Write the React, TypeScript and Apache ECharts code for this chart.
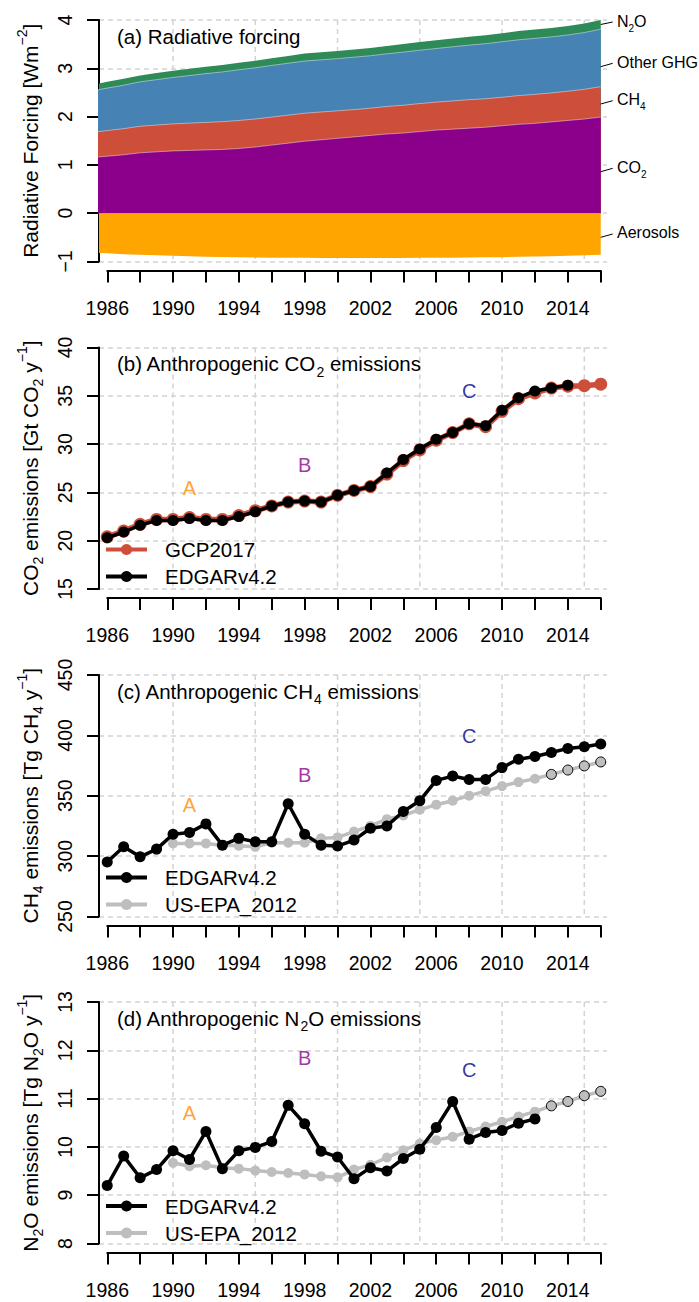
import React, { useEffect, useRef } from "react";
import * as echarts from "echarts";

// ---------------- DATA ----------------
const forcingYears = [1985, 1986, 1987, 1988, 1989, 1990, 1991, 1992, 1993, 1994, 1995, 1996, 1997, 1998, 1999, 2000, 2001, 2002, 2003, 2004, 2005, 2006, 2007, 2008, 2009, 2010, 2011, 2012, 2013, 2014, 2015, 2016];
const co2Forcing = [1.15, 1.18, 1.21, 1.25, 1.27, 1.29, 1.3, 1.31, 1.32, 1.34, 1.37, 1.41, 1.45, 1.49, 1.52, 1.55, 1.58, 1.61, 1.64, 1.66, 1.69, 1.72, 1.74, 1.76, 1.78, 1.81, 1.84, 1.86, 1.89, 1.92, 1.95, 1.99];
const ch4Forcing = [0.52, 0.53, 0.54, 0.55, 0.555, 0.56, 0.565, 0.57, 0.575, 0.58, 0.58, 0.58, 0.58, 0.58, 0.575, 0.57, 0.565, 0.565, 0.57, 0.575, 0.58, 0.58, 0.585, 0.59, 0.59, 0.59, 0.595, 0.6, 0.6, 0.605, 0.615, 0.63];
const otherGhgForcing = [0.86, 0.88, 0.9, 0.92, 0.94, 0.96, 0.985, 1.01, 1.03, 1.05, 1.06, 1.07, 1.075, 1.08, 1.08, 1.08, 1.085, 1.085, 1.09, 1.1, 1.105, 1.11, 1.12, 1.13, 1.14, 1.15, 1.155, 1.16, 1.16, 1.165, 1.175, 1.19];
const n2oForcing = [0.125, 0.13, 0.132, 0.133, 0.136, 0.138, 0.14, 0.141, 0.144, 0.146, 0.148, 0.15, 0.152, 0.154, 0.155, 0.158, 0.16, 0.162, 0.164, 0.166, 0.168, 0.17, 0.172, 0.174, 0.176, 0.178, 0.18, 0.182, 0.184, 0.186, 0.188, 0.19];
const aerosolForcing = [-0.82, -0.83, -0.85, -0.86, -0.87, -0.88, -0.89, -0.9, -0.905, -0.91, -0.915, -0.92, -0.92, -0.92, -0.925, -0.93, -0.93, -0.93, -0.93, -0.925, -0.92, -0.92, -0.92, -0.915, -0.91, -0.91, -0.9, -0.895, -0.89, -0.88, -0.87, -0.86];

const edgarCo2Years = [1986, 1987, 1988, 1989, 1990, 1991, 1992, 1993, 1994, 1995, 1996, 1997, 1998, 1999, 2000, 2001, 2002, 2003, 2004, 2005, 2006, 2007, 2008, 2009, 2010, 2011, 2012, 2013, 2014];
const edgarCo2 = [20.3, 20.9, 21.6, 22.1, 22.1, 22.3, 22.1, 22.1, 22.5, 23.0, 23.6, 24.0, 24.1, 24.0, 24.7, 25.2, 25.6, 27.0, 28.4, 29.5, 30.5, 31.2, 32.1, 31.9, 33.5, 34.8, 35.5, 35.8, 36.1];
const gcpYears = [1986, 1987, 1988, 1989, 1990, 1991, 1992, 1993, 1994, 1995, 1996, 1997, 1998, 1999, 2000, 2001, 2002, 2003, 2004, 2005, 2006, 2007, 2008, 2009, 2010, 2011, 2012, 2013, 2014, 2015, 2016];
const gcpCo2 = [20.4, 21.0, 21.7, 22.2, 22.2, 22.4, 22.2, 22.2, 22.6, 23.1, 23.6, 24.0, 24.1, 24.0, 24.7, 25.2, 25.6, 26.9, 28.3, 29.4, 30.4, 31.2, 32.1, 31.8, 33.4, 34.7, 35.3, 35.8, 36.0, 36.05, 36.2];

const edgarCh4Years = [1986, 1987, 1988, 1989, 1990, 1991, 1992, 1993, 1994, 1995, 1996, 1997, 1998, 1999, 2000, 2001, 2002, 2003, 2004, 2005, 2006, 2007, 2008, 2009, 2010, 2011, 2012, 2013, 2014, 2015, 2016];
const edgarCh4 = [295.2, 307.7, 299.4, 305.8, 318.1, 319.5, 326.7, 309.1, 314.7, 311.9, 311.9, 343.4, 318.1, 309.1, 308.3, 313.3, 323.1, 325.0, 337.0, 345.9, 362.7, 366.3, 363.5, 363.5, 373.3, 380.3, 382.5, 385.8, 389.2, 390.6, 392.8];
const epaYears = [1990, 1991, 1992, 1993, 1994, 1995, 1996, 1997, 1998, 1999, 2000, 2001, 2002, 2003, 2004, 2005, 2006, 2007, 2008, 2009, 2010, 2011, 2012, 2013, 2014, 2015, 2016];
const epaCh4 = [310.5, 310.5, 310.5, 309.1, 308.6, 307.7, 311.1, 311.1, 311.1, 314.7, 315.5, 320.3, 325.0, 330.6, 333.7, 338.4, 342.6, 345.9, 350.1, 353.8, 358.0, 361.3, 364.1, 367.7, 371.3, 374.7, 378.0];

const edgarN2oYears = [1986, 1987, 1988, 1989, 1990, 1991, 1992, 1993, 1994, 1995, 1996, 1997, 1998, 1999, 2000, 2001, 2002, 2003, 2004, 2005, 2006, 2007, 2008, 2009, 2010, 2011, 2012];
const edgarN2o = [9.2, 9.81, 9.36, 9.53, 9.92, 9.74, 10.32, 9.55, 9.92, 9.99, 10.11, 10.86, 10.48, 9.91, 9.79, 9.34, 9.57, 9.5, 9.76, 9.95, 10.4, 10.94, 10.16, 10.3, 10.34, 10.49, 10.58];
const epaN2o = [9.67, 9.6, 9.62, 9.57, 9.55, 9.51, 9.48, 9.46, 9.43, 9.39, 9.37, 9.53, 9.63, 9.78, 9.93, 10.07, 10.14, 10.21, 10.32, 10.42, 10.52, 10.63, 10.73, 10.85, 10.94, 11.06, 11.15];
const epaProjectionStart = 2013;

const letterNames = ["A", "B", "C"];
const letterYears = [1991, 1998, 2008];
const lettersCo2 = [25.5, 27.8, 35.5];
const lettersCh4 = [342.6, 367.0, 399.2];
const lettersN2o = [10.7, 11.85, 11.6];

const verticalGridYears = [1990, 1995, 2000, 2005, 2010, 2015];

// ---------------- STYLE / LAYOUT ----------------
const FONT = '"Liberation Sans", Arial, Helvetica, sans-serif';
const GRID_COLOR = "#d3d3d3";
const TOPS = [20, 347.5, 675, 1002];
const PH = 241.5;
const PL = 99;
const PW = 508;
const AL = 107.3;
const AW = 493.4;
const XMIN = 1985.5;
const XMAX = 2016.38;
const letterColors = ["#FF8C00", "#8B008B", "#00008B"];
const C_CO2 = "#8B008B";
const C_CH4 = "#CD4F39";
const C_OTHER = "#4682B4";
const C_N2O = "#2E8B57";
const C_AER = "#FFA500";
const C_GRAY = "#BEBEBE";

const panels = [
  { yMin: -1, yMax: 4, interval: 1, name: "Radiative Forcing [Wm{sup|−2}]", title: "(a) Radiative forcing" },
  { yMin: 15, yMax: 40, interval: 5, name: "CO{sub|2} emissions [Gt CO{sub|2} y{sup|−1}]", title: "(b) Anthropogenic CO{sub|2} emissions" },
  { yMin: 250, yMax: 450, interval: 50, name: "CH{sub|4} emissions [Tg CH{sub|4} y{sup|−1}]", title: "(c) Anthropogenic CH{sub|4} emissions" },
  { yMin: 8, yMax: 13, interval: 1, name: "N{sub|2}O emissions [Tg N{sub|2}O y{sup|−1}]", title: "(d) Anthropogenic N{sub|2}O emissions" },
];

const pairs = (xs: number[], ys: number[]) => xs.map((x, i) => [x, ys[i]]);

function buildOption() {
  const grid: any[] = [];
  const xAxis: any[] = [];
  const yAxis: any[] = [];
  const series: any[] = [];
  const graphic: any[] = [];

  const optRich = {
    sub: { fontSize: 14, verticalAlign: "bottom", fontFamily: FONT, color: "#000" },
    sup: { fontSize: 14, verticalAlign: "top", fontFamily: FONT, color: "#000" },
  };
  const gRich = (fs: number) => ({
    sub: { fontSize: fs, verticalAlign: "bottom", fontFamily: FONT, fill: "#000" },
    sup: { fontSize: fs, verticalAlign: "top", fontFamily: FONT, fill: "#000" },
  });

  panels.forEach((p, i) => {
    const top = TOPS[i];
    grid.push({ left: PL, top, width: PW, height: PH, containLabel: false, outerBoundsMode: "none" });
    grid.push({ left: AL, top, width: AW, height: PH, containLabel: false, outerBoundsMode: "none" });
    xAxis.push({ gridIndex: 2 * i, type: "value", min: XMIN, max: XMAX, show: false });
    xAxis.push({
      gridIndex: 2 * i + 1,
      type: "value",
      min: 1986,
      max: 2016,
      interval: 2,
      position: "bottom",
      offset: 9,
      axisLine: { show: true, onZero: false, lineStyle: { color: "#000", width: 2 } },
      axisTick: { show: true, length: 12, lineStyle: { color: "#000", width: 2 } },
      axisLabel: {
        show: true,
        margin: 27,
        fontSize: 19.5,
        fontFamily: FONT,
        color: "#000",
        showMinLabel: true,
        showMaxLabel: true,
        formatter: (v: number) => {
          const r = Math.round(v);
          return (r - 1986) % 4 === 0 ? String(r) : "";
        },
      },
      splitLine: { show: false },
    });
    yAxis.push({
      gridIndex: 2 * i,
      type: "value",
      min: p.yMin,
      max: p.yMax,
      interval: p.interval,
      axisLine: { show: true, onZero: false, lineStyle: { color: "#000", width: 2 } },
      axisTick: { show: true, length: 12, lineStyle: { color: "#000", width: 2 } },
      axisLabel: {
        show: true,
        rotate: 90,
        margin: 24,
        fontSize: 19.5,
        fontFamily: FONT,
        color: "#000",
        showMinLabel: true,
        showMaxLabel: true,
        formatter: (v: number) => (v < 0 ? "−" + Math.abs(v) : String(v)),
      },
      splitLine: { show: true, lineStyle: { color: GRID_COLOR, width: 1.5, type: [5, 4] } },
      name: p.name,
      nameLocation: "middle",
      nameGap: 54,
      nameRotate: 90,
      nameMoveOverlap: false,
      nameTextStyle: { fontSize: 21, fontFamily: FONT, color: "#000", lineHeight: 30, rich: optRich },
    });
    yAxis.push({ gridIndex: 2 * i + 1, type: "value", min: 0, max: 1, show: false });

    series.push({
      type: "custom",
      xAxisIndex: 2 * i,
      yAxisIndex: 2 * i,
      z: 1,
      silent: true,
      data: verticalGridYears.map((y) => [y, p.yMin]),
      renderItem: (params: any, api: any) => {
        const x = api.coord([api.value(0), api.value(1)])[0];
        const cs = params.coordSys;
        return {
          type: "line",
          shape: { x1: x, y1: cs.y, x2: x, y2: cs.y + cs.height },
          style: { stroke: GRID_COLOR, lineWidth: 1.5, lineDash: [5, 4] },
        };
      },
    });

    graphic.push({
      type: "text",
      x: 117,
      y: top + 16,
      z: 10,
      style: {
        text: p.title,
        fontSize: 20.5,
        fontFamily: FONT,
        fill: "#000",
        verticalAlign: "middle",
        align: "left",
        lineHeight: 30,
        rich: gRich(14),
      },
    });
  });

  // ---- panel (a): stacked areas (cumulative tops, drawn back to front)
  const cumCh4 = co2Forcing.map((v, k) => v + ch4Forcing[k]);
  const cumOther = cumCh4.map((v, k) => v + otherGhgForcing[k]);
  const cumN2o = cumOther.map((v, k) => v + n2oForcing[k]);
  const area = (name: string, vals: number[], color: string, lw: number, z: number) => ({
    name,
    type: "line",
    xAxisIndex: 0,
    yAxisIndex: 0,
    data: pairs(forcingYears, vals),
    symbol: "none",
    showSymbol: false,
    silent: true,
    lineStyle: { width: lw, color: "rgba(255,255,255,0.55)" },
    areaStyle: { color, opacity: 1, origin: 0 },
    z,
  });
  series.push(area("N2O", cumN2o, C_N2O, 0, 2));
  series.push(area("Other GHG", cumOther, C_OTHER, 0.8, 2.1));
  series.push(area("CH4", cumCh4, C_CH4, 0.8, 2.2));
  series.push(area("CO2", co2Forcing, C_CO2, 0.8, 2.3));
  series.push(area("Aerosols", aerosolForcing, C_AER, 0, 2.3));

  // ---- emission lines
  const line = (name: string, i: number, years: number[], vals: number[], color: string, width: number, size: number, z: number, projFrom?: number) => ({
    name,
    type: "line",
    xAxisIndex: 2 * i,
    yAxisIndex: 2 * i,
    data: years.map((y, k) =>
      projFrom != null && y >= projFrom
        ? { value: [y, vals[k]], itemStyle: { borderColor: "#000", borderWidth: 1 } }
        : [y, vals[k]]
    ),
    symbol: "circle",
    symbolSize: size,
    showSymbol: true,
    silent: true,
    lineStyle: { color, width },
    itemStyle: { color },
    z,
  });
  series.push(line("GCP2017", 1, gcpYears, gcpCo2, C_CH4, 5.5, 13, 2));
  series.push(line("EDGARv4.2", 1, edgarCo2Years, edgarCo2, "#000", 3.5, 11, 3));
  series.push(line("US-EPA_2012", 2, epaYears, epaCh4, C_GRAY, 3.5, 10, 2, epaProjectionStart));
  series.push(line("EDGARv4.2", 2, edgarCh4Years, edgarCh4, "#000", 3.5, 11, 3));
  series.push(line("US-EPA_2012", 3, epaYears, epaN2o, C_GRAY, 3.5, 10, 2, epaProjectionStart));
  series.push(line("EDGARv4.2", 3, edgarN2oYears, edgarN2o, "#000", 3.5, 11, 3));

  // ---- A/B/C letters
  [lettersCo2, lettersCh4, lettersN2o].forEach((vals, j) => {
    const i = j + 1;
    series.push({
      type: "scatter",
      xAxisIndex: 2 * i,
      yAxisIndex: 2 * i,
      symbolSize: 1,
      silent: true,
      z: 4,
      itemStyle: { color: "transparent" },
      data: letterYears.map((y, k) => ({
        value: [y, vals[k]],
        label: {
          show: true,
          position: "inside",
          formatter: letterNames[k],
          color: letterColors[k],
          fontSize: 20,
          fontFamily: FONT,
        },
      })),
    });
  });

  // ---- legends
  const legendBase = {
    orient: "vertical",
    left: 104,
    padding: 0,
    itemGap: 6,
    itemWidth: 41,
    itemHeight: 14,
    selectedMode: false,
    lineStyle: { width: 4 },
    textStyle: { fontSize: 20.5, fontFamily: FONT, color: "#000", lineHeight: 20, padding: [0, 0, 0, 13] },
  };
  const legend = [
    { ...legendBase, top: 539, data: ["GCP2017", "EDGARv4.2"] },
    { ...legendBase, top: 867, data: ["EDGARv4.2", "US-EPA_2012"] },
    { ...legendBase, top: 1195.5, data: ["EDGARv4.2", "US-EPA_2012"] },
  ];

  // ---- panel (a) right-hand labels
  const ann = [
    { t: "N{sub|2}O", ty: 21.7, l: [24.5, 22] },
    { t: "Other GHG", ty: 62, l: [66.7, 63.3] },
    { t: "CH{sub|4}", ty: 99.5, l: [104, 100.7] },
    { t: "CO{sub|2}", ty: 167, l: [171.7, 168.3] },
    { t: "Aerosols", ty: 232.5, l: [237.3, 234] },
  ];
  ann.forEach((a) => {
    graphic.push({
      type: "line",
      z: 10,
      shape: { x1: 600.7, y1: a.l[0], x2: 612.7, y2: a.l[1] },
      style: { stroke: "#000", lineWidth: 1 },
    });
    graphic.push({
      type: "text",
      x: 617,
      y: a.ty,
      z: 10,
      style: {
        text: a.t,
        fontSize: 16,
        fontFamily: FONT,
        fill: "#000",
        verticalAlign: "middle",
        align: "left",
        lineHeight: 24,
        rich: gRich(10),
      },
    });
  });

  return {
    animation: false,
    backgroundColor: "#fff",
    grid,
    xAxis,
    yAxis,
    series,
    legend,
    graphic,
  };
}

export default function App() {
  const ref = useRef<HTMLDivElement>(null);
  useEffect(() => {
    const chart = echarts.init(ref.current as HTMLDivElement, null, { renderer: "svg" });
    chart.setOption(buildOption() as any);
    return () => chart.dispose();
  }, []);
  return (
    <div
      ref={ref}
      style={{ position: "absolute", left: 0, top: 0, width: 699, height: 1302, background: "#fff" }}
    />
  );
}
